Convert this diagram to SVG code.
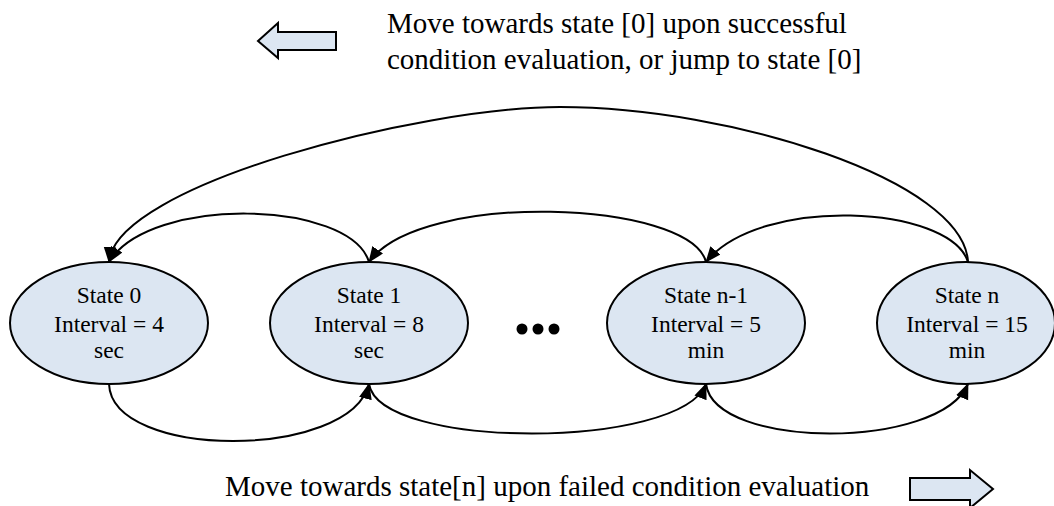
<svg xmlns="http://www.w3.org/2000/svg" width="1054" height="506" viewBox="0 0 1054 506">
  <style>
    text { font-family: "Liberation Serif", "Times New Roman", Times, "DejaVu Serif", serif; fill: #000; }
    .state { fill: #dce6f2; stroke: #000; stroke-width: 2; }
    .label { font-size: 23.5px; text-anchor: middle; }
    .caption { font-size: 29px; }
    .edge { fill: none; stroke: #000; stroke-width: 2; }
    .block { fill: #dce6f2; stroke: #000; stroke-width: 2; stroke-linejoin: miter; }
  </style>
  <defs>
    <marker id="head" markerUnits="userSpaceOnUse" markerWidth="17" markerHeight="14" refX="15" refY="6.5" orient="auto">
      <path d="M0,0 L16,6.5 L0,13 Z" fill="#000"/>
    </marker>
  </defs>

  <rect width="1054" height="506" fill="#fff"/>

  <!-- legend: backward direction -->
  <g id="legend-top" font-family="Liberation Serif, Times New Roman, DejaVu Serif, serif">
    <polygon class="block" points="258,41 278,23 278,32 336,32 336,50 278,50 278,58"/>
    <text class="caption" x="387" y="33">Move towards state [0] upon successful</text>
    <text class="caption" x="387" y="69">condition evaluation, or jump to state [0]</text>
  </g>

  <!-- legend: forward direction -->
  <g id="legend-bottom" font-family="Liberation Serif, Times New Roman, DejaVu Serif, serif">
    <text class="caption" x="225" y="496">Move towards state[n] upon failed condition evaluation</text>
    <polygon class="block" points="910,478 970,478 970,470 993,489 970,508 970,500 910,500"/>
  </g>

  <!-- transitions -->
  <g id="connectors">
    <path class="edge" marker-end="url(#head)" d="M968,262 C964,180 730,107 560,107 C420,107 115,185 109,262"/>
    <path class="edge" marker-end="url(#head)" d="M968,262 C950,205 760,195 706,262"/>
    <path class="edge" marker-end="url(#head)" d="M706,262 C690,200 420,190 369,262"/>
    <path class="edge" marker-end="url(#head)" d="M369,262 C350,200 150,195 109,262"/>
    <path class="edge" marker-end="url(#head)" d="M109,384 C112,460 350,460 369,384"/>
    <path class="edge" marker-end="url(#head)" d="M369,384 C380,450 680,450 706,384"/>
    <path class="edge" marker-end="url(#head)" d="M706,384 C715,450 940,450 968,384"/>
  </g>

  <g id="state-0">
    <ellipse class="state" cx="109" cy="323" rx="99" ry="61"/>
    <text class="label" x="109" y="303">State 0</text>
    <text class="label" x="109" y="331.5">Interval = 4</text>
    <text class="label" x="109" y="358">sec</text>
  </g>

  <g id="state-1">
    <ellipse class="state" cx="369" cy="323" rx="99" ry="61"/>
    <text class="label" x="369" y="303">State 1</text>
    <text class="label" x="369" y="331.5">Interval = 8</text>
    <text class="label" x="369" y="358">sec</text>
  </g>

  <g id="ellipsis">
    <circle cx="522" cy="329" r="5.5" fill="#000"/>
    <circle cx="538" cy="329" r="5.5" fill="#000"/>
    <circle cx="554" cy="329" r="5.5" fill="#000"/>
  </g>

  <g id="state-n-1">
    <ellipse class="state" cx="706" cy="323" rx="99" ry="61"/>
    <text class="label" x="706" y="303">State n-1</text>
    <text class="label" x="706" y="331.5">Interval = 5</text>
    <text class="label" x="706" y="358">min</text>
  </g>

  <g id="state-n">
    <ellipse class="state" cx="966" cy="323" rx="89" ry="61"/>
    <text class="label" x="967" y="303">State n</text>
    <text class="label" x="967" y="331.5">Interval = 15</text>
    <text class="label" x="967" y="358">min</text>
  </g>
</svg>
